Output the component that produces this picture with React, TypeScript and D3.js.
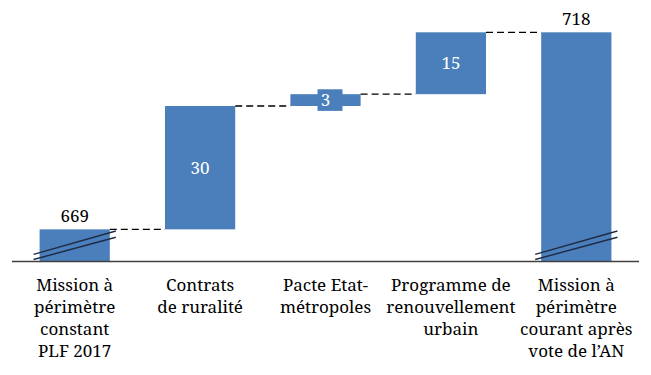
import React from "react";
import * as d3 from "d3";

const categories: string[][] = [
  ["Mission à", "périmètre", "constant", "PLF 2017"],
  ["Contrats", "de ruralité"],
  ["Pacte Etat-", "métropoles"],
  ["Programme de", "renouvellement", "urbain"],
  ["Mission à", "périmètre", "courant après", "vote de l’AN"],
];
const startValue = 669.4;
const deltas = [30.3, 2.9, 15.2];
const endValue = 717.8;
const axisMin = 661.5;

const W = 651;
const H = 375;
const BAR = "#4a7fbb";
const FONT = '"Noto Serif", "DejaVu Serif", serif';

export default function App() {
  const keys = categories.map((_, i) => String(i));
  const x = d3.scaleBand<string>().domain(keys).range([12, 639]).paddingInner(0.44).paddingOuter(0.22);
  const y = d3.scaleLinear().domain([axisMin, endValue]).range([261.5, 32.3]);
  const fmt = d3.format(".0f");

  type Bar = { lo: number; hi: number; label: string; kind: "total" | "delta" };
  const bars: Bar[] = [];
  bars.push({ lo: axisMin, hi: startValue, label: fmt(startValue), kind: "total" });
  let cum = startValue;
  deltas.forEach((d) => {
    bars.push({ lo: cum, hi: cum + d, label: fmt(d), kind: "delta" });
    cum += d;
  });
  bars.push({ lo: axisMin, hi: endValue, label: fmt(endValue), kind: "total" });

  const bw = x.bandwidth();

  return (
    <svg width={W} height={H} style={{ position: "absolute", left: 0, top: 0, fontFamily: FONT }}>
      <rect width={W} height={H} fill="#fff" />
      {bars.map((b, i) => {
        const x0 = x(String(i))!;
        const top = y(b.hi);
        const bot = y(b.lo);
        const cx = x0 + bw / 2;
        return (
          <g key={i}>
            <rect x={x0} y={top} width={bw} height={bot - top} fill={BAR} />
            {b.kind === "total" ? (
              <text x={cx} y={top - 7.5} textAnchor="middle" fontSize={17} fill="#000">
                {b.label}
              </text>
            ) : (
              <>
                {bot - top < 20 && (
                  <rect x={cx - 8} y={(top + bot) / 2 - 10.8} width={25} height={21.6} fill={BAR} />
                )}
                <text
                  x={cx}
                  y={(top + bot) / 2 + 6}
                  textAnchor="middle"
                  fontSize={17}
                  fill="#fff"
                >
                  {b.label}
                </text>
              </>
            )}
            {b.kind === "total" && (
              <g stroke="#1f2a44" strokeWidth={1.4}>
                <line x1={x0 - 6} y1={y(axisMin) - 7.2} x2={x0 + bw + 6} y2={y(axisMin) - 30.5} />
                <line x1={x0 - 6} y1={y(axisMin) - 2} x2={x0 + bw + 6} y2={y(axisMin) - 24.2} />
              </g>
            )}
            {i < bars.length - 1 && (
              <line
                x1={x0 + bw}
                x2={x(String(i + 1))!}
                y1={y(b.hi)}
                y2={y(b.hi)}
                stroke="#000"
                strokeWidth={1.3}
                strokeDasharray="7,4"
              />
            )}
            <text textAnchor="middle" fontSize={17} fill="#000">
              {categories[i].map((line, j) => (
                <tspan key={j} x={cx} y={290.7 + j * 22}>
                  {line}
                </tspan>
              ))}
            </text>
          </g>
        );
      })}
      <line x1={12} x2={639} y1={261.5} y2={261.5} stroke="#404040" strokeWidth={1.5} />
    </svg>
  );
}
